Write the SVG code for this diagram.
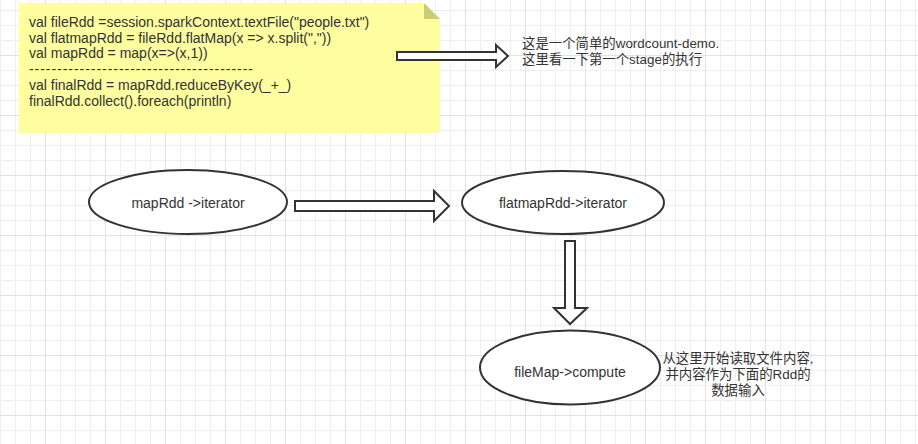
<svg xmlns="http://www.w3.org/2000/svg" width="918" height="444" viewBox="0 0 918 444">
<defs>
<pattern id="gmin" patternUnits="userSpaceOnUse" x="0" y="10" width="15" height="15">
<path d="M0.5 0V15M0 0.5H15" stroke="#efefef" stroke-width="1" fill="none"/>
</pattern>
<pattern id="gmaj" patternUnits="userSpaceOnUse" x="45" y="55" width="60" height="60">
<path d="M0.5 0V60M0 0.5H60" stroke="#e2e2e2" stroke-width="1" fill="none"/>
</pattern>
</defs>
<style>
.t{font-family:"Liberation Sans","Noto Sans CJK SC",sans-serif;fill:#333;}
.code{font-size:14px;}
.lab{font-size:14px;text-anchor:middle;}
.note{font-size:13.4px;}
.el{fill:#fff;stroke:#333;stroke-width:2;}
.ar{fill:#fff;stroke:#333;stroke-width:2;stroke-linejoin:miter;}
</style>
<rect width="918" height="444" fill="#fff"/>
<rect width="918" height="444" fill="url(#gmin)"/>
<rect width="918" height="444" fill="url(#gmaj)"/>

<g id="code-note">
<polygon points="19,3 424,3 440,19 440,133 19,133" fill="#ffffa0"/>
<polygon points="424,3 424,19 440,19" fill="#cbcb78"/>
<text class="t code" x="29" y="27">val fileRdd =session.sparkContext.textFile("people.txt")</text>
<text class="t code" x="29" y="43">val flatmapRdd = fileRdd.flatMap(x =&gt; x.split(","))</text>
<text class="t code" x="29" y="58">val mapRdd = map(x=&gt;(x,1))</text>
<text class="t code" x="29" y="74" textLength="224" lengthAdjust="spacing">----------------------------------------</text>
<text class="t code" x="29" y="90">val finalRdd = mapRdd.reduceByKey(_+_)</text>
<text class="t code" x="29" y="106">finalRdd.collect().foreach(println)</text>
</g>

<g id="connectors">
<polygon class="ar" points="397,52 496,52 496,45 508,56 496,67 496,60 397,60"/>
<polygon class="ar" points="295,201 434,201 434,191 449,206 434,221 434,211 295,211"/>
<polygon class="ar" points="565,241 575,241 575,308 587,308 570,324 554,308 565,308"/>
</g>

<g id="desc-note">
<text class="t note" x="522" y="48">这是一个简单的wordcount-demo.</text>
<text class="t note" x="522" y="64">这里看一下第一个stage的执行</text>
</g>

<g id="mapRdd">
<ellipse class="el" cx="188" cy="202" rx="99" ry="32"/>
<text class="t lab" x="188" y="208">mapRdd -&gt;iterator</text>
</g>

<g id="flatmapRdd">
<ellipse class="el" cx="563" cy="202.5" rx="101" ry="31.5"/>
<text class="t lab" x="563" y="208">flatmapRdd-&gt;iterator</text>
</g>

<g id="fileMap">
<ellipse class="el" cx="570" cy="367.5" rx="90" ry="37"/>
<text class="t lab" x="570" y="377">fileMap-&gt;compute</text>
</g>

<g id="compute-note">
<text class="t note" x="738" y="363" text-anchor="middle">从这里开始读取文件内容,</text>
<text class="t note" x="738" y="379" text-anchor="middle">并内容作为下面的Rdd的</text>
<text class="t note" x="738" y="395" text-anchor="middle">数据输入</text>
</g>
</svg>
